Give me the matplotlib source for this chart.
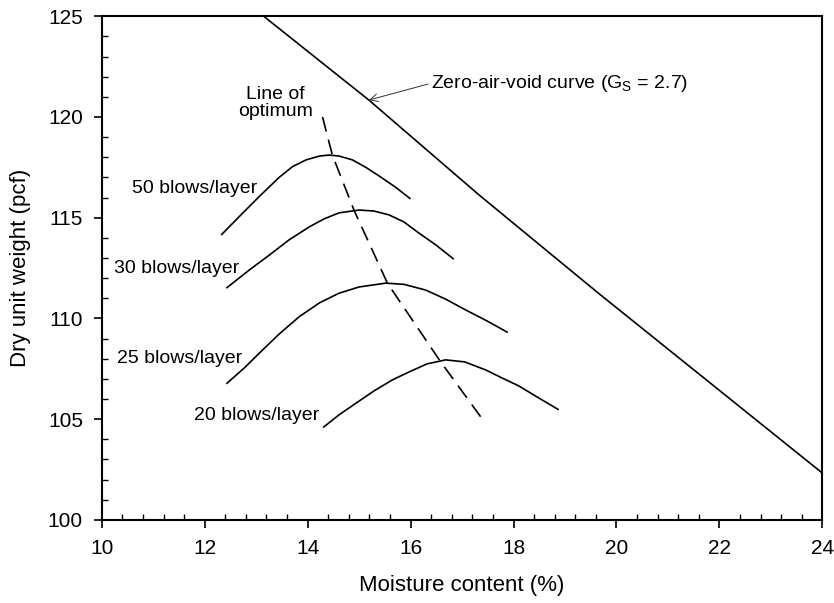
import numpy as np
import matplotlib
matplotlib.use("Agg")
import matplotlib.pyplot as plt
from matplotlib.ticker import MultipleLocator

plt.rcParams['font.family'] = ['Liberation Sans', 'DejaVu Sans']
plt.rcParams['mathtext.fontset'] = 'custom'
plt.rcParams['mathtext.rm'] = 'Liberation Sans'

# Compaction curves (moisture %, dry unit weight pcf)
w50 = [12.32, 12.67, 13.06, 13.45, 13.71, 13.97, 14.23, 14.42, 14.61, 14.87, 15.13, 15.39, 15.71, 16.00]
g50 = [114.14, 115.05, 116.05, 117.01, 117.54, 117.87, 118.06, 118.11, 118.06, 117.87, 117.50, 117.07, 116.51, 115.93]

w30 = [12.42, 12.87, 13.26, 13.64, 14.03, 14.32, 14.61, 15.00, 15.29, 15.58, 15.87, 16.16, 16.49, 16.84]
g30 = [111.50, 112.41, 113.15, 113.90, 114.54, 114.94, 115.24, 115.38, 115.33, 115.14, 114.79, 114.24, 113.65, 112.94]

w25 = [12.42, 12.77, 13.06, 13.45, 13.84, 14.23, 14.61, 15.00, 15.52, 15.87, 16.29, 16.67, 17.07, 17.48, 17.89]
g25 = [106.75, 107.54, 108.27, 109.23, 110.09, 110.77, 111.25, 111.56, 111.75, 111.69, 111.41, 110.97, 110.42, 109.88, 109.30]

w20 = [14.30, 14.61, 14.94, 15.29, 15.65, 15.97, 16.32, 16.68, 17.05, 17.46, 17.77, 18.10, 18.49, 18.88]
g20 = [104.58, 105.21, 105.79, 106.40, 106.95, 107.34, 107.74, 107.94, 107.84, 107.44, 107.05, 106.65, 106.05, 105.46]

# Zero-air-void curve
w_zav = [13.00, 15.19, 17.33, 19.65, 24.00]
g_zav = [125.30, 120.84, 116.13, 111.25, 102.32]

# Line of optimum
w_opt = [14.29, 14.48, 14.90, 15.55, 16.58, 17.38]
g_opt = [120.00, 118.11, 115.38, 111.75, 107.86, 105.05]

fig = plt.figure(figsize=(8.34, 6.03), dpi=100)
ax = fig.add_axes([0.122, 0.138, 0.864, 0.835])

lw = 1.2
for w, g in [(w50, g50), (w30, g30), (w25, g25), (w20, g20)]:
    ax.plot(w, g, color='black', lw=lw, solid_capstyle='butt')
ax.plot(w_zav, g_zav, color='black', lw=lw)
ax.plot(w_opt, g_opt, color='black', lw=lw, dashes=(9, 5))

ax.set_xlim(10, 24)
ax.set_ylim(100, 125)
ax.xaxis.set_major_locator(MultipleLocator(2))
ax.xaxis.set_minor_locator(MultipleLocator(0.4))
ax.yaxis.set_major_locator(MultipleLocator(5))
ax.yaxis.set_minor_locator(MultipleLocator(1))
ax.tick_params(which='major', direction='out', length=6, width=1.2, labelsize=15, pad=7.5)
ax.tick_params(axis='x', which='major', pad=8)
ax.tick_params(which='minor', direction='in', length=4, width=1.0)
for s in ax.spines.values():
    s.set_linewidth(1.5)

ax.set_xlabel("Moisture content (%)", fontsize=16, labelpad=12)
ax.set_ylabel("Dry unit weight (pcf)", fontsize=16, labelpad=12)

fs = 14
ax.text(10.58, 116.43, "50 blows/layer", fontsize=fs, va='center', ha='left')
ax.text(10.23, 112.49, "30 blows/layer", fontsize=fs, va='center', ha='left')
ax.text(10.30, 108.02, "25 blows/layer", fontsize=fs, va='center', ha='left')
ax.text(11.80, 105.16, "20 blows/layer", fontsize=fs, va='center', ha='left')
ax.text(13.37, 120.67, "Line of\noptimum", fontsize=fs, va='center', ha='center',
        multialignment='center', linespacing=1.0)

ax.annotate(r"Zero-air-void curve (G$_\mathregular{S}$ = 2.7)", xy=(15.19, 120.84),
            xytext=(16.39, 121.67), fontsize=fs, va='center', ha='left',
            arrowprops=dict(arrowstyle='->', color='#333333', lw=0.7,
                            shrinkA=0, shrinkB=0, relpos=(0, 0.5)))

fig.savefig("out.png", dpi=100)
